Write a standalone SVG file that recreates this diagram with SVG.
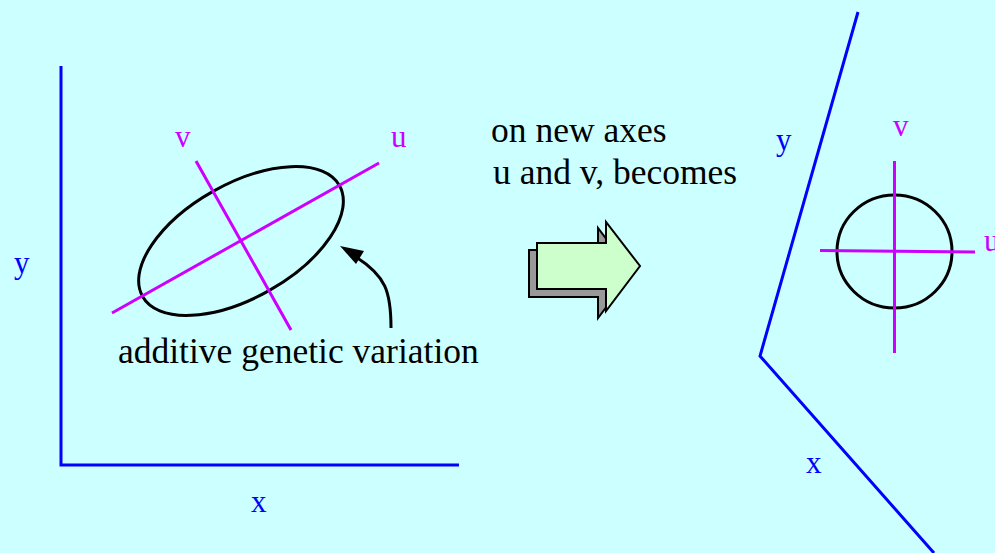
<svg xmlns="http://www.w3.org/2000/svg" width="995" height="553" viewBox="0 0 995 553">
<style>
.axis{stroke:#0000FF;stroke-width:3;fill:none}
.pc{stroke:#CC00FF;stroke-width:3;fill:none}
.curve{stroke:#000;stroke-width:3;fill:none}
.lbl{font-family:"Liberation Serif","Times New Roman",serif;font-size:31px}
.blue{fill:#0000FF}
.mag{fill:#CC00FF}
.txt{font-family:"Liberation Serif","Times New Roman",serif;font-size:35.5px;fill:#000}
</style>
<rect width="995" height="553" fill="#CCFFFF"/>
<g id="left-axes">
<polyline class="axis" points="61,66 61,465 459,465"/>
<text class="lbl blue" x="14" y="273">y</text>
<text class="lbl blue" x="251" y="512">x</text>
</g>
<g id="left-ellipse">
<ellipse cx="241" cy="241" rx="113" ry="57" transform="rotate(-29.4 241 241)" class="curve"/>
<line class="pc" x1="112" y1="313" x2="379" y2="163"/>
<line class="pc" x1="196" y1="161" x2="291" y2="330"/>
<text class="lbl mag" x="175" y="147">v</text>
<text class="lbl mag" x="391" y="147">u</text>
</g>
<g id="connectors">
<path class="curve" d="M391,328 C391,292 386,276 356,257"/>
<path d="M340,246 L364,251 L356,264 Z" fill="#000"/>
</g>
<g id="label-additive">
<text class="txt" x="118" y="363">additive genetic variation</text>
</g>
<g id="label-axes">
<text class="txt" x="491" y="142">on new axes</text>
<text class="txt" x="493" y="184">u and v, becomes</text>
</g>
<g id="big-arrow" stroke="#000" stroke-width="2" stroke-linejoin="miter">
<polygon points="529,250 598,250 598,228 632,273 598,318 598,297 529,297" fill="#999999"/>
<polygon points="537,243 606,243 606,222 640,266 606,311 606,289 537,289" fill="#CCFFCC"/>
</g>
<g id="right-axes">
<polyline class="axis" points="858,12 760,356 934,553"/>
<text class="lbl blue" x="776" y="150">y</text>
<text class="lbl blue" x="806" y="473">x</text>
</g>
<g id="right-circle">
<ellipse cx="894.5" cy="251.5" rx="57.5" ry="56.5" class="curve"/>
<line class="pc" x1="820" y1="250.5" x2="975" y2="252"/>
<line class="pc" x1="894.5" y1="161" x2="894.5" y2="353"/>
<text class="lbl mag" x="893" y="136">v</text>
<text class="lbl mag" x="984" y="251">u</text>
</g>
</svg>
